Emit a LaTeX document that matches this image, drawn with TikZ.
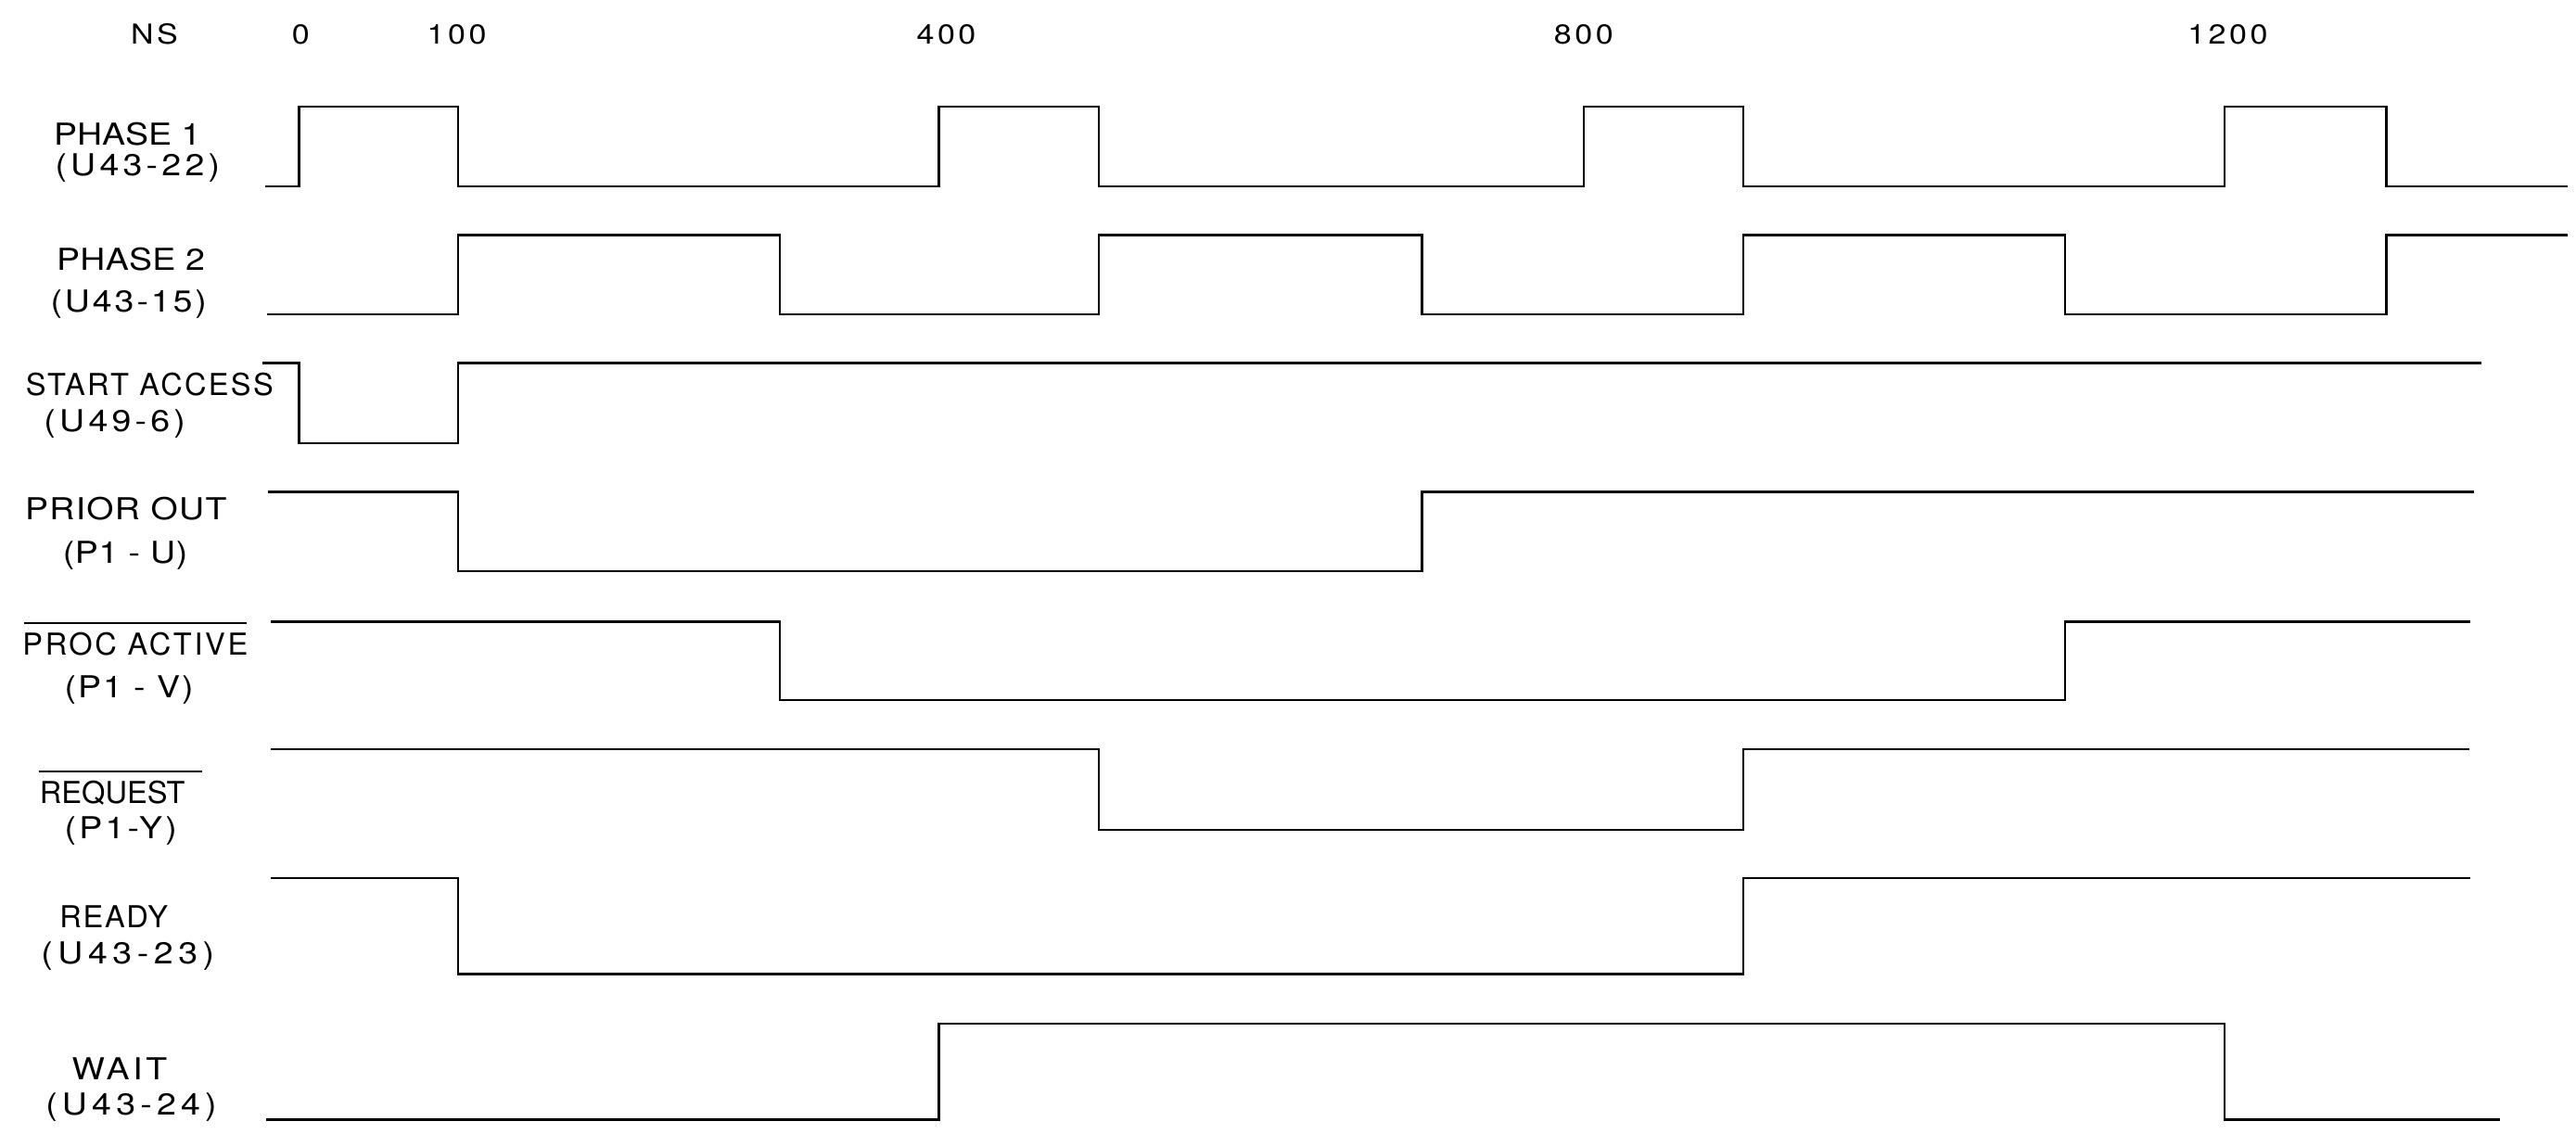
\documentclass[tikz,border=0pt]{standalone}
\usepackage{fontspec}
\newfontfamily\lblfont{TeX Gyre Heros}
\begin{document}
\begin{tikzpicture}[x=1pt,y=-1pt,
  wave/.style={line width=1.3pt, line join=miter},
  lbl/.style 2 args={inner sep=0pt, anchor=base west,
    font=\lblfont\fontsize{18.4}{22}\selectfont\addfontfeatures{FakeStretch=#1,LetterSpace=#2}},
  hdr/.style={inner sep=0pt, anchor=base,
    font=\lblfont\fontsize{16.7}{20}\selectfont\addfontfeatures{FakeStretch=1.15,LetterSpace=12}},
  ovl/.style={line width=1.1pt}]
\useasboundingbox (0,0) rectangle (1568,690);

% header
\node[hdr] (ns)  at (94,27)   {NS};
\node[hdr] (t0)  at (183,27)  {0};
\node[hdr] (t1)  at (278,27)  {100};
\node[hdr] (t4)  at (576,27)  {400};
\node[hdr] (t8)  at (964,27)  {800};
\node[hdr] (t12) at (1356,27) {1200};

% labels
\node[lbl={1.15}{0}]  (ph1)  at (32.6,88.6)  {PHASE 1};
\node[lbl={1.15}{13}] (ph1p) at (33.4,106.9) {(U43-22)};
\node[lbl={1.15}{1}]  (ph2)  at (34.3,164.6) {PHASE 2};
\node[lbl={1.15}{9}]  (ph2p) at (30.6,190)   {(U43-15)};
\node[lbl={1}{7}]     (sa)   at (15.6,240.8) {START ACCESS};
\node[lbl={1.15}{13}] (sap)  at (26.6,263)   {(U49-6)};
\node[lbl={1.15}{4}]  (po)   at (15.1,316.5) {PRIOR OUT};
\node[lbl={1.15}{2}]  (pop)  at (38.1,343)   {(P1 - U)};
\node[lbl={1}{8}]     (pa)   at (13.6,398.9) {PROC ACTIVE};
\node[lbl={1.15}{6}]  (pap)  at (39.1,425)   {(P1 - V)};
\node[lbl={1}{0}]     (rq)   at (24,488.8)   {REQUEST};
\node[lbl={1.15}{10}] (rqp)  at (39.1,510.8) {(P1-Y)};
\node[lbl={1}{5}]     (rd)   at (36.2,564.8) {READY};
\node[lbl={1.15}{17}] (rdp)  at (24.9,587)   {(U43-23)};
\node[lbl={1.15}{11}] (wt)   at (43.6,657.4) {WAIT};
\node[lbl={1.15}{16}] (wtp)  at (27.6,678.7) {(U43-24)};

% overlines (active-low signals)
\draw[ovl] ([yshift=5.5pt,xshift=1pt]pa.north west) -- ([yshift=5.5pt,xshift=-1pt]pa.north east);
\draw[ovl] ([yshift=5.5pt,xshift=-0.5pt]rq.north west) -- ([yshift=5.5pt,xshift=10pt]rq.north east);

% waveforms
\draw[wave] (161.5,113.5) -| (182,65) -| (279,113.5) -| (571.5,65) -| (669,113.5)
  -| (964,65) -| (1061,113.5) -| (1354,65) -| (1452.5,113.5) -- (1563,113.5);
\draw[wave] (162.5,191.5) -| (279,143) -| (474.5,191.5) -| (669,143) -| (865.5,191.5)
  -| (1061,143) -| (1257,191.5) -| (1452.5,143) -- (1563,143);
\draw[wave] (160,221) -| (182,269.7) -| (279,221) -- (1510.5,221);
\draw[wave] (163,299.5) -| (279,347.5) -| (865.5,299.5) -- (1506,299.5);
\draw[wave] (165,378.5) -| (474.5,426) -| (1257,378.5) -- (1503.5,378.5);
\draw[wave] (165,456) -| (669,505) -| (1061,456) -- (1503,456);
\draw[wave] (165,534.5) -| (279,593) -| (1061,534.5) -- (1503.5,534.5);
\draw[wave] (162,681.5) -| (571.5,623) -| (1354,681.5) -- (1521.5,681.5);
\end{tikzpicture}
\end{document}
